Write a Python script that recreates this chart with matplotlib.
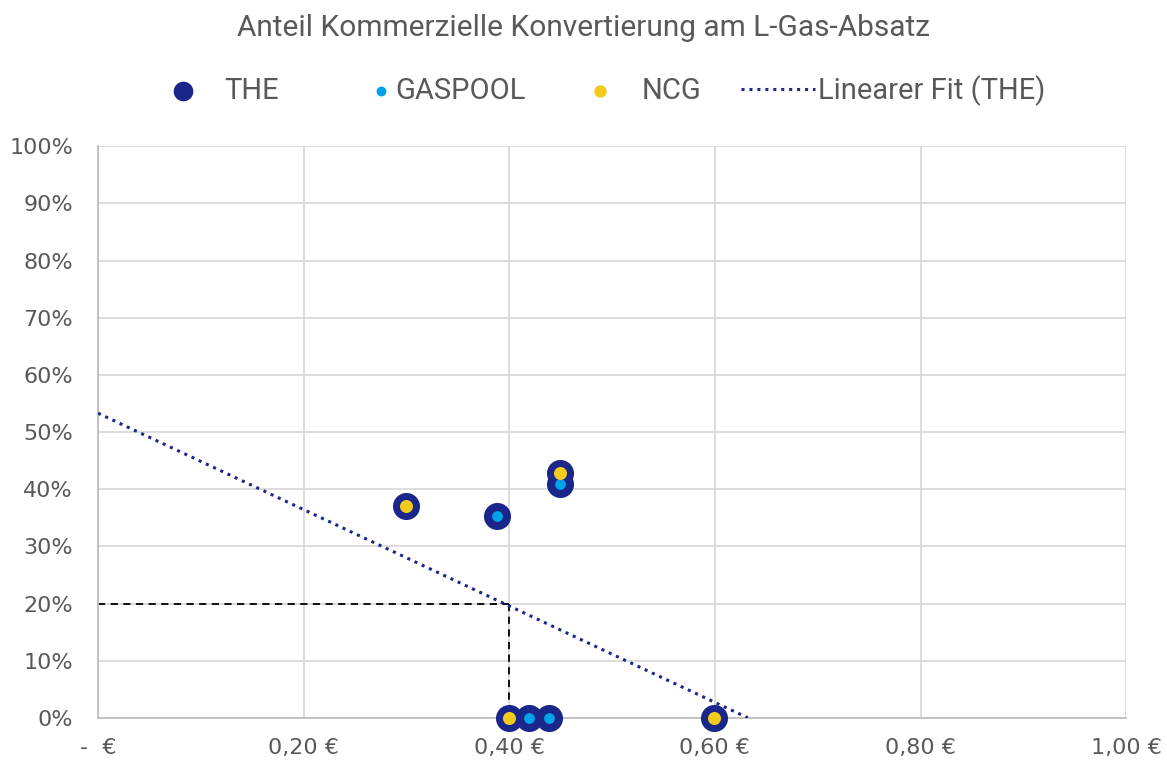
import matplotlib.pyplot as plt
import numpy as np

# data
the_x = [0.30, 0.388, 0.449, 0.449, 0.40, 0.419, 0.439, 0.599]
the_y = [0.371, 0.353, 0.409, 0.428, 0.0, 0.0, 0.0, 0.0]
gaspool_x = [0.388, 0.449, 0.419, 0.439]
gaspool_y = [0.353, 0.409, 0.0, 0.0]
ncg_x = [0.30, 0.449, 0.40, 0.599]
ncg_y = [0.371, 0.428, 0.0, 0.0]
fit_x = [0.0, 0.632]
fit_y = [0.533, 0.0]
target_x = 0.40
target_y = 0.20

x_ticks = [0.0, 0.2, 0.4, 0.6, 0.8, 1.0]
x_labels = ['-  €', '0,20 €', '0,40 €', '0,60 €', '0,80 €', '1,00 €']
y_ticks = np.arange(0, 1.01, 0.1)
y_labels = ['%d%%' % round(v * 100) for v in y_ticks]

plt.rcParams['font.family'] = ['Roboto', 'DejaVu Sans']

txt = '#595959'
navy = '#1B268A'
light = '#00A3E8'
yellow = '#F2CB1D'
W, H = 1167, 762

fig = plt.figure(figsize=(11.67, 7.62), dpi=100)
ax = fig.add_axes([0.084, 0.058, 0.881, 0.75])

ax.plot([0, target_x], [target_y, target_y], color='black', ls=(0, (4, 3)), lw=1.3, zorder=2)
ax.plot([target_x, target_x], [target_y, 0], color='black', ls=(0, (4, 3)), lw=1.3, zorder=2)
fit_line, = ax.plot(fit_x, fit_y, color=navy, ls=(0, (1, 1.6)), lw=2.2, zorder=3)

the_pts = ax.scatter(the_x, the_y, s=380, color=navy, lw=0, zorder=4, clip_on=False)
gas_pts = ax.scatter(gaspool_x, gaspool_y, s=60, color=light, lw=0, zorder=5, clip_on=False)
ncg_pts = ax.scatter(ncg_x, ncg_y, s=88, color=yellow, lw=0, zorder=6, clip_on=False)

ax.set_xlim(0, 1.0)
ax.set_ylim(0, 1.0)
ax.set_xticks(x_ticks)
ax.set_xticklabels(x_labels, family=['DejaVu Sans'])
ax.set_yticks(y_ticks)
ax.set_yticklabels(y_labels, family=['DejaVu Sans'])
ax.tick_params(length=0, labelsize=16, colors=txt)
ax.tick_params(axis='y', pad=18)
ax.tick_params(axis='x', pad=14.5)
ax.grid(True, color='#D9D9D9', lw=1.3)
ax.set_axisbelow(True)
for s in ['top', 'right']:
    ax.spines[s].set_visible(False)
for s in ['left', 'bottom']:
    ax.spines[s].set_color('#BFBFBF')
    ax.spines[s].set_linewidth(1.3)

# legend entries placed one by one, like the Excel layout
entries = [
    (the_pts, 'THE', 150, 2.26, 0.3, 200),
    (gas_pts, 'GASPOOL', 375, 0.4, 0.3, 50),
    (ncg_pts, 'NCG', 567, 2.26, 0.3, 80),
    (fit_line, 'Linearer Fit (THE)', 741, 2.53, 0.1, None),
]
for h, lab, x0, hl, tp, sz in entries:
    lg = fig.legend([h], [lab], loc='center left', bbox_to_anchor=(x0 / W, 1 - 91 / H),
                    frameon=False, fontsize=21, labelcolor=txt, borderpad=0,
                    borderaxespad=0, handlelength=hl, handletextpad=tp)
    if sz:
        lg.legend_handles[0].set_sizes([sz])

fig.text(0.5, 1 - 28 / H, 'Anteil Kommerzielle Konvertierung am L-Gas-Absatz',
         ha='center', va='center', fontsize=21.5, color=txt)

fig.savefig('out.png', dpi=100)
